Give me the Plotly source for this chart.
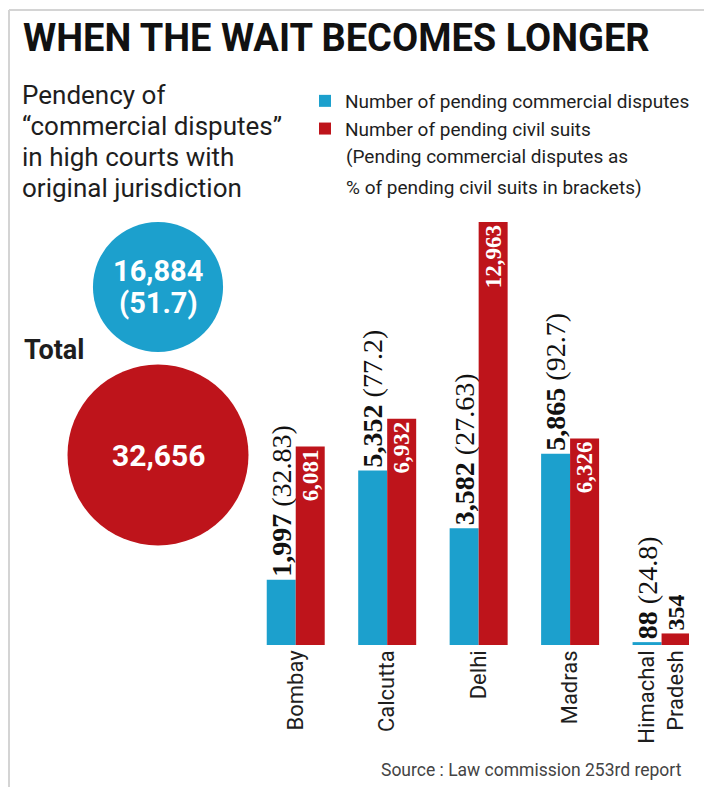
import plotly.graph_objects as go

# ---------------- data ----------------
courts = ["Bombay", "Calcutta", "Delhi", "Madras", "Himachal<br>Pradesh"]
commercial = [1997, 5352, 3582, 5865, 88]
civil = [6081, 6932, 12963, 6326, 354]
pct_labels = ["32.83", "77.2", "27.63", "92.7", "24.8"]
total_commercial = 16884
total_civil = 32656
total_pct = "51.7"

# ---------------- styles ----------------
W, H = 704, 787
CYAN = "#1ca0cd"
RED = "#be141b"
DARK = "#1e1e1e"
SANS = "Roboto, Liberation Sans, sans-serif"
SERIF = "Liberation Serif, DejaVu Serif, serif"


def px_x(p):
    return p / W


def px_y(p):
    return 1 - p / H


fig = go.Figure()

# civil text: inside (white) except where bar too short
civil_pos = ["inside" if v > 2000 else "outside" for v in civil]

fig.add_trace(go.Bar(
    x=list(range(len(courts))), y=commercial, name="Number of pending commercial disputes",
    marker=dict(color=CYAN, line=dict(width=0)),
    customdata=pct_labels,
    texttemplate="<b>%{y:,}</b> (%{customdata})",
    textposition="outside", textangle=-90, constraintext="none", cliponaxis=False,
    outsidetextfont=dict(family=SERIF, size=28, color="#111111"),
    xaxis="x", yaxis="y",
))
fig.add_trace(go.Bar(
    x=list(range(len(courts))), y=civil, name="Number of pending civil suits",
    marker=dict(color=RED, line=dict(width=0)),
    texttemplate="<b>%{y:,}</b>",
    textposition=civil_pos, textangle=-90, constraintext="none", cliponaxis=False,
    insidetextanchor="end",
    insidetextfont=dict(family=SERIF, size=23, color="white"),
    outsidetextfont=dict(family=SERIF, size=24, color="#111111"),
    xaxis="x", yaxis="y",
))

# total bubbles (area proportional)
fig.add_trace(go.Scatter(
    x=[0, 0], y=[0, 1], mode="markers",
    marker=dict(size=[total_commercial, total_civil], sizemode="area",
                sizeref=2 * total_civil / 181 ** 2, color=[CYAN, RED], line=dict(width=0), opacity=1),
    xaxis="x2", yaxis="y2", showlegend=False, hoverinfo="skip", cliponaxis=False,
))

# y2 rows: row 0 centre at px 287, row 1 at px 455 (168 px per row)
ROW_PX = 168
top_val = -287 / ROW_PX
bot_val = (H - 287) / ROW_PX

fig.update_layout(
    width=W, height=H,
    margin=dict(l=0, r=0, t=0, b=0),
    paper_bgcolor="white", plot_bgcolor="white",
    barmode="group", bargap=0.366, bargroupgap=0,
    xaxis=dict(domain=[px_x(250), px_x(689)], range=[-0.5, 4.3], tickmode="array",
               tickvals=list(range(len(courts))), ticktext=courts, tickangle=-90,
               tickfont=dict(family=SANS, size=22, color=DARK), ticks="",
               showgrid=False, zeroline=False, showline=False, anchor="y"),
    yaxis=dict(domain=[px_y(645), px_y(200)], range=[0, 13640], visible=False, anchor="x"),
    xaxis2=dict(domain=[0, px_x(250)], range=[-158, 92], visible=False, anchor="y2"),
    yaxis2=dict(domain=[0, 1], range=[bot_val, top_val], visible=False, anchor="x2"),
    showlegend=True,
    legend=dict(x=px_x(305), y=px_y(82), xanchor="left", yanchor="top",
                font=dict(family=SANS, size=19, color=DARK), bgcolor="rgba(0,0,0,0)",
                itemclick=False, itemdoubleclick=False, traceorder="normal"),
    font=dict(family=SANS, color=DARK),
)

ann = []
ann.append(dict(text="<b>WHEN THE WAIT BECOMES LONGER</b>", x=px_x(21), y=px_y(38), xref="paper", yref="paper",
                xanchor="left", yanchor="middle", showarrow=False,
                font=dict(family=SANS, size=38, color="#111111")))
sub_lines = ["Pendency of", "“commercial disputes”", "in high courts with", "original jurisdiction"]
for i, line in enumerate(sub_lines):
    ann.append(dict(text=line, x=px_x(20), y=px_y(95 + 31 * i), xref="paper", yref="paper",
                    xanchor="left", yanchor="middle", showarrow=False,
                    font=dict(family=SANS, size=26, color=DARK)))
note_lines = ["(Pending commercial disputes as", "% of pending civil suits in brackets)"]
for i, line in enumerate(note_lines):
    ann.append(dict(text=line, x=px_x(344), y=px_y(157 + 30 * i), xref="paper", yref="paper",
                    xanchor="left", yanchor="middle", showarrow=False,
                    font=dict(family=SANS, size=19, color=DARK)))
ann.append(dict(text="<b>Total</b>", x=px_x(22), y=px_y(350), xref="paper", yref="paper",
                xanchor="left", yanchor="middle", showarrow=False, font=dict(family=SANS, size=27, color=DARK)))
ann.append(dict(text=f"<b>{total_commercial:,}</b>", x=0, y=0 - 16 / ROW_PX, xref="x2", yref="y2",
                xanchor="center", yanchor="middle", showarrow=False, font=dict(family=SANS, size=29, color="white")))
ann.append(dict(text=f"<b>({total_pct})</b>", x=0, y=0 + 16 / ROW_PX, xref="x2", yref="y2",
                xanchor="center", yanchor="middle", showarrow=False, font=dict(family=SANS, size=29, color="white")))
ann.append(dict(text=f"<b>{total_civil:,}</b>", x=0, y=1, xref="x2", yref="y2",
                xanchor="center", yanchor="middle", showarrow=False, font=dict(family=SANS, size=30, color="white")))
ann.append(dict(text="Source : Law commission 253rd report", x=px_x(684), y=px_y(770), xref="paper", yref="paper",
                xanchor="right", yanchor="middle", showarrow=False, font=dict(family=SANS, size=17.5, color="#444444")))
fig.update_layout(annotations=ann)

fig.add_shape(type="line", xref="paper", yref="paper", x0=px_x(9), x1=1, y0=px_y(10), y1=px_y(10),
              line=dict(color="#d4d4d4", width=2))
fig.add_shape(type="line", xref="paper", yref="paper", x0=px_x(9), x1=px_x(9), y0=px_y(10), y1=0,
              line=dict(color="#d4d4d4", width=2))

fig.write_html("out.html")
